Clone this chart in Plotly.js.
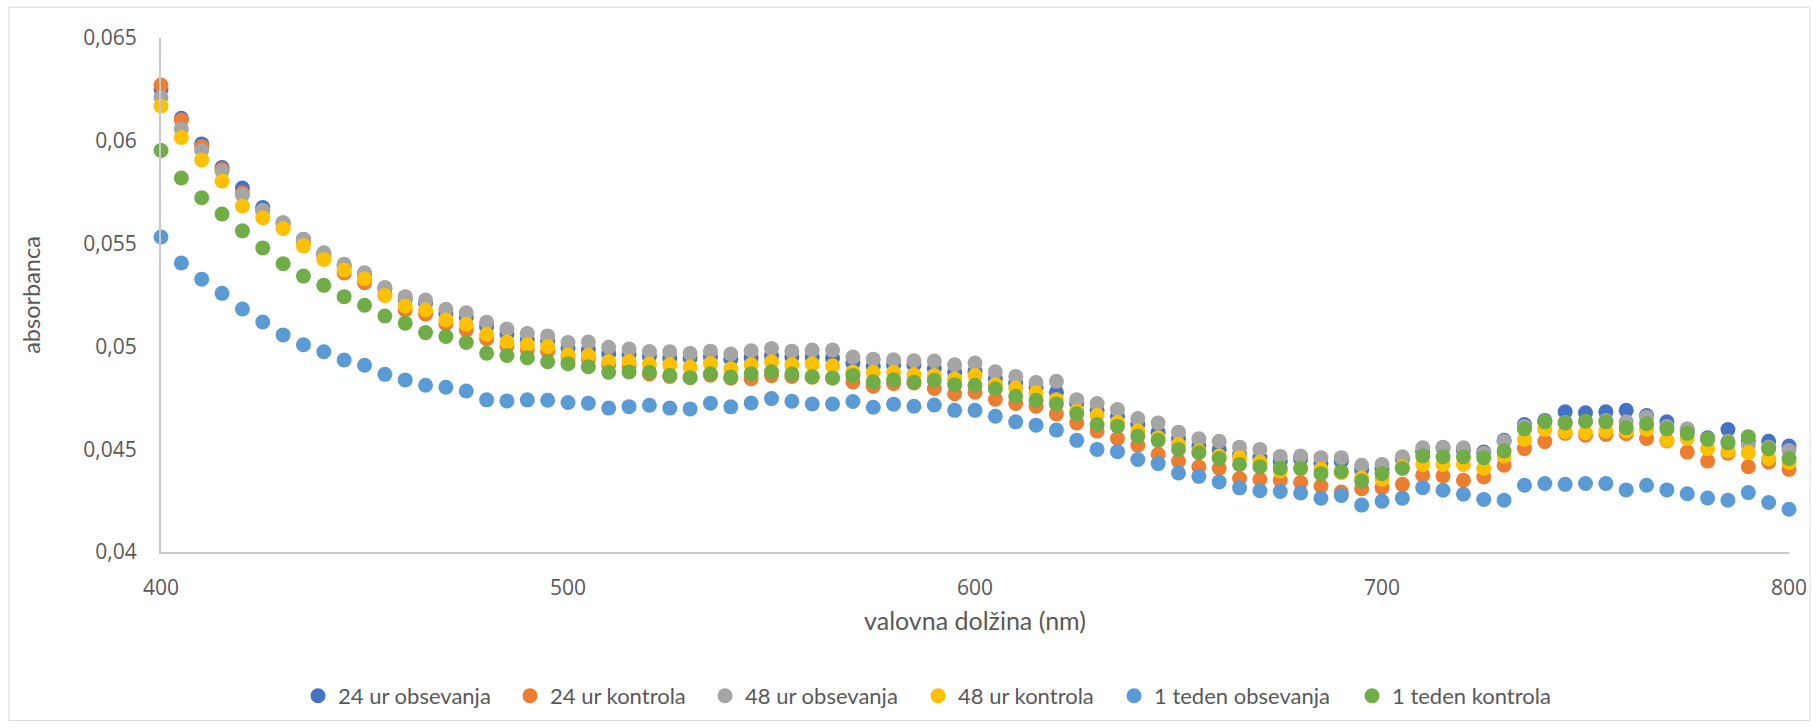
<!DOCTYPE html>
<html>
<head>
<meta charset="utf-8">
<script src="https://cdn.plot.ly/plotly-3.0.1.min.js"></script>
<style>
  html, body { margin: 0; padding: 0; background: #ffffff; }
  #chart { width: 1818px; height: 728px; }
</style>
</head>
<body>
<div id="chart"></div>
<script>
const wavelengths = [
  400,405,410,415,420,425,430,435,440,445,
  450,455,460,465,470,475,480,485,490,495,
  500,505,510,515,520,525,530,535,540,545,
  550,555,560,565,570,575,580,585,590,595,
  600,605,610,615,620,625,630,635,640,645,
  650,655,660,665,670,675,680,685,690,695,
  700,705,710,715,720,725,730,735,740,745,
  750,755,760,765,770,775,780,785,790,795,
  800
];

const obs24h = [
  .0625,.0611,.05985,.0587,.0577,.05675,.0560,.0552,.0545,.0539,
  .0535,.0528,.0523,.0521,.0516,.0514,.05096,.0506,.05035,.05024,
  .04992,.04984,.04964,.04961,.04951,.04943,.04943,.0495,.04938,.04945,
  .04954,.04948,.04948,.04943,.04919,.04903,.04911,.04911,.04893,.04874,
  .04879,.04843,.04819,.04798,.04777,.04722,.04689,.0466,.0462,.04583,
  .04551,.04515,.04499,.04475,.04459,.0444,.04454,.04431,.0444,.0440,
  .04405,.04454,.0449,.04507,.04495,.04486,.04543,.0462,.0464,.04682,
  .04677,.04682,.04689,.04664,.04633,.0459,.04556,.04596,.0454,.04539,
  .04515
];

const ctl24h = [
  .06271,.06101,.05972,.0586,.05746,.0566,.0559,.0551,.0544,.05357,
  .0531,.0525,.05177,.05158,.0511,.0508,.05037,.0500,.04984,.04975,
  .04945,.0494,.0491,.04905,.04866,.04854,.0485,.0486,.04845,.04843,
  .04858,.04854,.0485,.04846,.04827,.04806,.0482,.04822,.04795,.0477,
  .04777,.04743,.04722,.04709,.04672,.04628,.04588,.04552,.0452,.04475,
  .04442,.04415,.04407,.04357,.04354,.04348,.04338,.04321,.04292,.04308,
  .04313,.04329,.04373,.0437,.04349,.04365,.04422,.04503,.04537,.04577,
  .04568,.04572,.04575,.04552,.0454,.04486,.04442,.0448,.04415,.04437,
  .04402
];

const obs48h = [
  .06211,.06058,.05953,.05852,.05735,.05662,.05602,.05521,.05455,.0540,
  .05358,.05287,.05242,.05226,.05181,.05164,.05118,.05085,.05063,.05051,
  .05019,.05021,.04996,.04987,.04975,.04974,.04966,.04977,.04963,.04979,
  .0499,.04977,.04982,.04982,.04948,.04938,.04935,.0493,.04929,.04911,
  .04919,.04877,.04854,.04825,.0483,.04741,.04722,.04693,.04649,.04628,
  .04583,.04551,.04539,.0451,.04499,.04465,.04467,.04459,.04459,.04422,
  .04426,.04463,.04507,.0451,.04507,.0448,.04539,.0461,.04635,.0463,
  .04635,.0464,.04633,.04656,.0461,.04599,.0455,.04539,.0452,.0451,
  .04494
];

const ctl48h = [
  .06169,.06016,.05907,.05804,.05683,.05626,.05573,.05489,.05423,.05371,
  .05329,.05248,.05197,.05177,.05129,.05108,.05059,.05021,.05008,.0500,
  .04959,.04956,.04927,.04927,.04914,.04911,.0490,.04916,.04891,.04911,
  .04925,.04911,.04914,.04906,.04875,.04874,.04874,.04862,.04858,.04842,
  .04858,.04814,.04798,.04774,.04741,.04685,.04664,.04631,.04588,.04556,
  .04523,.04491,.04467,.04459,.04437,.04394,.04406,.04402,.04386,.0436,
  .04354,.04415,.04426,.04426,.04426,.04407,.04467,.04548,.04596,.04585,
  .0458,.04588,.04588,.04596,.04543,.04552,.04502,.04491,.04483,.04455,
  .04435
];

const obs1w = [
  .05532,.05406,.05327,.05258,.05182,.05119,.05056,.05008,.04974,.04934,
  .04908,.04864,.04837,.04811,.04801,.04783,.0474,.04735,.0474,.04738,
  .04727,.04724,.0470,.04707,.04714,.0470,.04696,.04724,.04706,.04725,
  .04746,.04733,.0472,.0472,.04732,.04704,.04719,.04709,.04715,.04689,
  .04689,.0466,.04633,.04617,.04593,.04543,.04499,.04488,.0445,.0443,
  .04384,.04368,.04341,.04312,.04298,.04294,.04287,.04262,.04275,.04228,
  .04247,.04262,.04313,.0430,.04281,.04255,.04252,.04325,.04333,.04329,
  .04333,.04333,.04302,.04325,.04302,.04283,.04263,.04252,.04289,.04241,
  .04208
];

const ctl1w = [
  .05953,.05819,.05723,.05644,.05562,.05479,.05402,.05342,.05297,.05242,
  .0520,.05148,.05113,.05067,.05048,.05019,.04967,.04956,.04945,.04925,
  .04916,.04901,.04874,.04876,.04874,.04859,.04848,.04867,.04851,.04867,
  .04877,.04866,.04853,.04846,.04858,.04828,.04838,.04827,.04835,.04814,
  .04811,.04794,.04757,.04738,.0472,.04672,.0462,.04612,.04564,.04543,
  .04499,.04483,.04455,.04426,.04415,.04408,.04406,.04381,.04392,.04345,
  .04381,.04406,.04467,.04463,.04463,.04459,.04491,.04598,.04633,.04628,
  .04636,.04633,.04604,.04624,.04599,.04577,.04548,.04531,.04561,.04502,
  .04455
];

const seriesNames = ["24 ur obsevanja","24 ur kontrola","48 ur obsevanja","48 ur kontrola","1 teden obsevanja","1 teden kontrola"];
const seriesValues = [obs24h, ctl24h, obs48h, ctl48h, obs1w, ctl1w];
const seriesColors = ["#4472C4","#ED7D31","#A5A5A5","#FFC000","#5B9BD5","#70AD47"];

const yTickVals = [0.04, 0.045, 0.05, 0.055, 0.06, 0.065];
const yTickText = ["0,04","0,045","0,05","0,055","0,06","0,065"];
const xTickVals = [400, 500, 600, 700, 800];
const xTickText = ["400","500","600","700","800"];

// plot area geometry (px)
const plotLeft = 161, plotWidth = 1628;
// legend entry left edges (px), one legend box per series
const legendLeftPx = [298, 510, 705, 918, 1114, 1352];
const legendIds = ["legend","legend2","legend3","legend4","legend5","legend6"];

const traces = seriesNames.map((name, i) => ({
  type: "scatter",
  mode: "markers",
  name: name,
  legend: legendIds[i],
  x: wavelengths,
  y: seriesValues[i],
  cliponaxis: false,
  marker: { color: seriesColors[i], size: 15, line: { width: 0 } }
}));

const tickFont = { family: "Open Sans, sans-serif", size: 21, color: "#595959" };

const layout = {
  width: 1818,
  height: 728,
  paper_bgcolor: "#ffffff",
  plot_bgcolor: "#ffffff",
  margin: { l: 161, r: 29, t: 38, b: 175, pad: 0 },
  showlegend: true,
  xaxis: {
    range: [400, 800],
    tickmode: "array",
    tickvals: xTickVals,
    ticktext: xTickText,
    showgrid: false,
    zeroline: false,
    showline: true,
    linecolor: "#C9C9C9",
    linewidth: 2,
    ticks: "",
    ticklabelstandoff: 16,
    tickfont: tickFont,
    title: { text: "valovna dolžina (nm)", font: { family: "Lato, sans-serif", size: 25, color: "#595959" }, standoff: 12 }
  },
  yaxis: {
    range: [0.04, 0.065],
    tickmode: "array",
    tickvals: yTickVals,
    ticktext: yTickText,
    showgrid: false,
    zeroline: false,
    showline: true,
    linecolor: "#C9C9C9",
    linewidth: 2,
    ticks: "",
    ticklabelstandoff: 18,
    tickfont: tickFont,
    title: { text: "absorbanca", font: { family: "Lato, sans-serif", size: 23.5, color: "#595959" }, standoff: 36 }
  },
  shapes: [{
    type: "rect", xref: "paper", yref: "paper",
    x0: -0.0934, x1: 1.0129, y0: -0.328, y1: 1.060,
    line: { color: "#D9D9D9", width: 1 },
    fillcolor: "rgba(0,0,0,0)",
    layer: "below"
  }]
};

legendIds.forEach((id, i) => {
  layout[id] = {
    orientation: "h",
    x: (legendLeftPx[i] - plotLeft) / plotWidth, xanchor: "left",
    y: -0.2777, yanchor: "middle",
    bgcolor: "rgba(0,0,0,0)",
    font: { family: "Lato, sans-serif", size: 22, color: "#595959" },
    itemwidth: 30
  };
});

Plotly.newPlot("chart", traces, layout, { staticPlot: true, displayModeBar: false });
</script>
</body>
</html>
